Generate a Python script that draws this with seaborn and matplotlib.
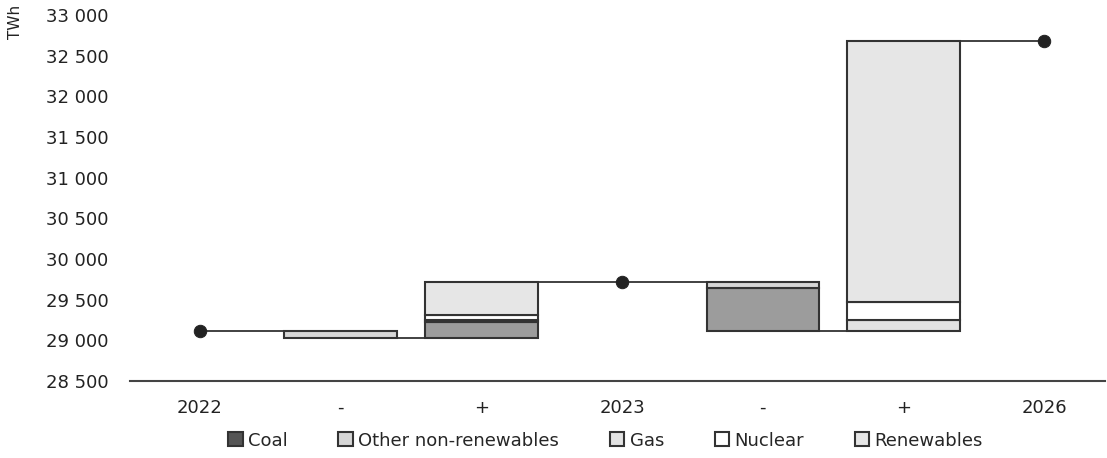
import numpy as np
import matplotlib
matplotlib.use("Agg")
import matplotlib.pyplot as plt
import seaborn as sns
from matplotlib.patches import Patch
from matplotlib.ticker import FuncFormatter

# --- datos ---
etiquetas = ["2022", "-", "+", "2023", "-", "+", "2026"]
fuentes = ["Coal", "Other non-renewables", "Gas", "Nuclear", "Renewables"]
colores = ["#9c9c9c", "#d6d6d6", "#e2e2e2", "#ffffff", "#e6e6e6"]

total_2022 = 29120
total_2023 = 29720
total_2026 = 32680

# cambios por fuente (TWh), en el orden de "fuentes"
baja_22_23 = [0, 85, 0, 0, 0]
suba_22_23 = [190, 0, 25, 60, 410]
baja_23_26 = [520, 80, 0, 0, 0]
suba_23_26 = [0, 0, 130, 224, 3206]

totales = {0: total_2022, 3: total_2023, 6: total_2026}
pasos = [(1, baja_22_23, -1), (2, suba_22_23, 1), (4, baja_23_26, -1), (5, suba_23_26, 1)]

# --- figura ---
sns.set_theme(style="white")
plt.rcParams["font.family"] = ["DejaVu Sans"]

fig = plt.figure(figsize=(11.07, 4.58), dpi=100)
ax = fig.add_axes([0.117, 0.168, 0.881, 0.799])

ancho = 0.8
borde = "#333333"
nivel = total_2022
conectores = []  # (x inicio, x fin, y)
x_prev, y_prev = 0, total_2022
for pos, cambios, signo in pasos:
    delta = sum(cambios)
    inicio = nivel if signo > 0 else nivel - delta
    base = inicio
    for fuente, valor, color in zip(fuentes, cambios, colores):
        if valor == 0:
            continue
        ax.bar(pos, valor, bottom=base, width=ancho, color=color,
               edgecolor=borde, linewidth=1.5, zorder=3)
        base += valor
    conectores.append((x_prev, pos - ancho / 2, y_prev))
    nivel = nivel + signo * delta
    x_prev = pos + ancho / 2
    y_prev = nivel
    if pos + 1 in totales:
        conectores.append((x_prev, pos + 1, nivel))
        x_prev, y_prev = pos + 1, nivel

for x0, x1, y in conectores:
    ax.hlines(y, x0, x1, color=borde, linewidth=1.3, zorder=2)

sns.scatterplot(x=list(totales.keys()), y=list(totales.values()), color="#222222",
                s=80, edgecolor="#222222", zorder=4, ax=ax, legend=False)

ax.set_xlim(-0.5, 6.43)
ax.set_ylim(28500, 33000)
ax.set_yticks(np.arange(28500, 33001, 500))
ax.yaxis.set_major_formatter(FuncFormatter(lambda v, p: f"{v:,.0f}".replace(",", " ")))
ax.set_xticks(range(len(etiquetas)))
ax.set_xticklabels(etiquetas)
ax.tick_params(axis="both", length=0, labelsize=13, colors="#222222")
ax.tick_params(axis="x", pad=13)
ax.tick_params(axis="y", pad=15)
for lado in ["top", "right", "left"]:
    ax.spines[lado].set_visible(False)
ax.spines["bottom"].set_color("#444444")
ax.spines["bottom"].set_linewidth(1.5)

fig.text(0.014, 0.99, "TWh", rotation=90, ha="center", va="top", fontsize=11, color="#222222")

manijas = [Patch(facecolor=c, edgecolor=borde, linewidth=1.5, label=f) for f, c in zip(fuentes, colores)]
manijas[0] = Patch(facecolor="#555555", edgecolor=borde, linewidth=1.5, label="Coal")
fig.legend(handles=manijas, loc="center", bbox_to_anchor=(0.547, 0.038), ncol=5, frameon=False,
           fontsize=13, handlelength=0.8, handleheight=0.8, handletextpad=0.3, columnspacing=2.8)

fig.savefig("out.png", dpi=100)
